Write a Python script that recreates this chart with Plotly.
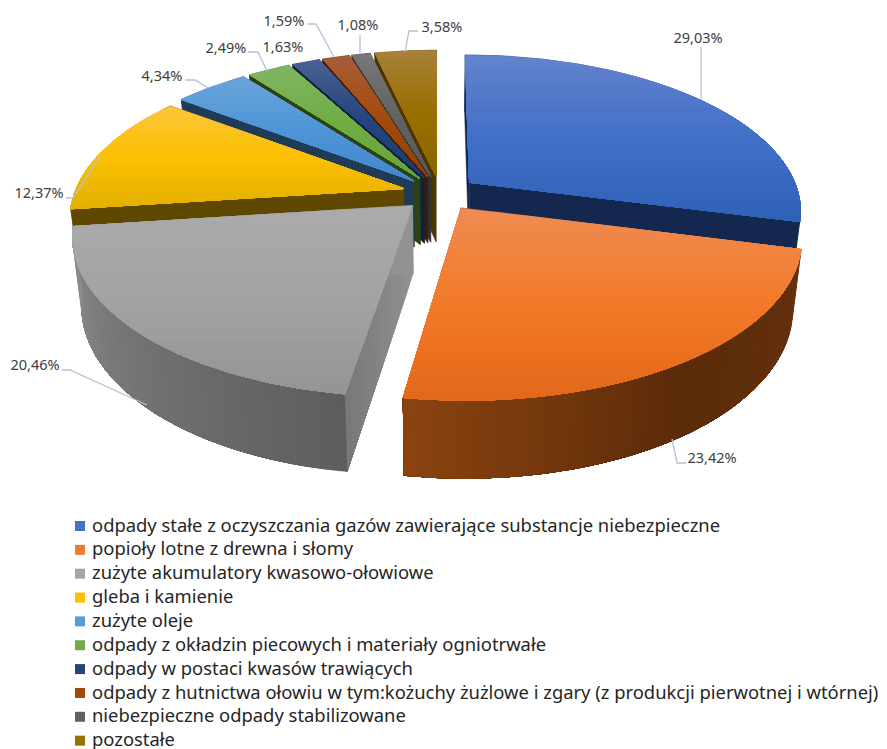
import math
import plotly.graph_objects as go

# ---- data ----
categories = [
    "odpady stałe z oczyszczania gazów zawierające substancje niebezpieczne",
    "popioły lotne z drewna i słomy",
    "zużyte akumulatory kwasowo-ołowiowe",
    "gleba i kamienie",
    "zużyte oleje",
    "odpady z okładzin piecowych i materiały ogniotrwałe",
    "odpady w postaci kwasów trawiących",
    "odpady z hutnictwa ołowiu w tym:kożuchy żużlowe i zgary (z produkcji pierwotnej i wtórnej)",
    "niebezpieczne odpady stabilizowane",
    "pozostałe",
]
values = [29.03, 23.42, 20.46, 12.37, 4.34, 2.49, 1.63, 1.59, 1.08, 3.58]

# ---- styles ----
top_colors = [
    ("#6483cd", "#4170c8", "#2f62b6"),
    ("#ef8b53", "#f37a29", "#e2681a"),
    ("#ababab", "#a3a3a3", "#959595"),
    ("#fcc53c", "#fbc000", "#e4b000"),
    ("#6ba4da", "#4f96d8", "#4487cc"),
    ("#81b565", "#6eae42", "#67a43b"),
    ("#4c6192", "#24467f", "#1d3c75"),
    ("#a95d3a", "#a44c0e", "#8e4006"),
    ("#787878", "#636363", "#595959"),
    ("#a9813c", "#997000", "#8a6500"),
]
legend_colors = ["#4472c4", "#ed7d31", "#a5a5a5", "#fdc000", "#5b9bd5", "#70ad47",
                 "#264478", "#a04a10", "#636363", "#997300"]
wall_colors = ["#14284f", "#5f2d0b", "#777777", "#5e4800", "#1f3b55",
               "#2b4217", "#12203d", "#3c1d08", "#333333", "#4a3600"]
outer_wall_stops = {1: ["#66330f", "#5b2b0a", "#8b4310"], 2: ["#5d5d5d", "#737373", "#8d8d8d"]}
radial_wall_stops = {2: ["#939393", "#787878"]}
label_pos = [(698, 39), (712, 459), (35, 366), (39, 194), (162, 77),
             (226, 49), (283, 48), (284, 22), (358, 26), (442, 28)]
leaders = [
    [(701, 47), (701, 100)],
    [(672, 439), (677, 463), (686, 463)],
    [(62, 370), (70, 370), (147, 405)],
    [(66, 198), (73, 198), (102, 153)],
    [(185, 80), (195, 80), (208, 88)],
    [(248, 52), (258, 52), (267, 71)],
    None,
    [(308, 24), (316, 24), (334, 57)],
    [(360, 35), (360, 54)],
    [(418, 31), (409, 31), (405, 52)],
]
paint_order = [9, 8, 7, 6, 5, 4, 3, 2, 0, 1]
legend_x, legend_text_x, legend_y0, legend_dy = 80, 92, 527, 23.85
CX, CY, A, B, K, EXPL = 440, 193, 329, 153, 0.174, 0.115
H0, H1, S = 67, 10, 0.975


def proj(X, Y, bottom=False):
    w = 1 - K * Y
    if bottom:
        return CX + S * A * X / w, CY + B * Y / w + H0 + H1 * Y
    return CX + A * X / w, CY + B * Y / w


def hex2rgb(h):
    return tuple(int(h[i:i + 2], 16) for i in (1, 3, 5))


def mix(stops, t):
    t = max(0.0, min(1.0, t)) * (len(stops) - 1)
    i = min(int(t), len(stops) - 2)
    f = t - i
    a, b = hex2rgb(stops[i]), hex2rgb(stops[i + 1])
    return "rgb(%d,%d,%d)" % tuple(round(a[j] + (b[j] - a[j]) * f) for j in range(3))


def clip_below(poly, y):
    out = []
    n = len(poly)
    for i in range(n):
        p, q = poly[i], poly[(i + 1) % n]
        pin, qin = p[1] >= y, q[1] >= y
        if pin:
            out.append(p)
        if pin != qin:
            f = (y - p[1]) / (q[1] - p[1])
            out.append((p[0] + (q[0] - p[0]) * f, y))
    return out


fig = go.Figure()


def add_poly(poly, color, name):
    xs = [p[0] for p in poly] + [poly[0][0]]
    ys = [p[1] for p in poly] + [poly[0][1]]
    fig.add_trace(go.Scatter(x=xs, y=ys, mode="lines", fill="toself", fillcolor=color,
                             line=dict(color=color, width=0.5), hoverinfo="skip",
                             showlegend=False, name=name))


total = sum(values)
bounds = [0.0]
for v in values:
    bounds.append(bounds[-1] + v / total * 2 * math.pi)

for idx in paint_order:
    t0, t1 = bounds[idx], bounds[idx + 1]
    mid = (t0 + t1) / 2
    ox, oy = EXPL * math.sin(mid), -EXPL * math.cos(mid)
    n = max(4, int((t1 - t0) / math.radians(1)))
    angles = [t0 + (t1 - t0) * i / n for i in range(n + 1)]
    rim = [(ox + math.sin(a), oy - math.cos(a)) for a in angles]
    name = categories[idx]

    # radial walls: each strip runs to the far end, so later strips overpaint with no seams
    for (rx, ry) in (rim[0], rim[-1]):
        strips = 16 if idx in radial_wall_stops else 1
        for s in range(strips):
            f0 = s / strips
            a0 = (ox + (rx - ox) * f0, oy + (ry - oy) * f0)
            a1 = (rx, ry)
            col = mix(radial_wall_stops[idx], (s + .5) / strips) if idx in radial_wall_stops else wall_colors[idx]
            add_poly([proj(*a0), proj(*a1), proj(*a1, True), proj(*a0, True)], col, name)

    # outer wall
    if idx in outer_wall_stops:
        for i in range(n):
            part = rim[i:]
            col = mix(outer_wall_stops[idx], (i + .5) / n)
            add_poly([proj(*a) for a in part] + [proj(*a, True) for a in reversed(part)], col, name)
    else:
        add_poly([proj(*a) for a in rim] + [proj(*a, True) for a in reversed(rim)], wall_colors[idx], name)

    # top face with vertical gradient, overpainted from the top down
    poly = [proj(ox, oy)] + [proj(*a) for a in rim]
    ymin = min(p[1] for p in poly)
    ymax = max(p[1] for p in poly)
    bands = max(6, int((ymax - ymin) / 4))
    for b in range(bands):
        y0 = ymin + (ymax - ymin) * b / bands
        piece = clip_below(poly, y0)
        if len(piece) >= 3:
            add_poly(piece, mix(top_colors[idx], (b + .5) / bands), name)

# leader lines
for line in leaders:
    if line:
        fig.add_trace(go.Scatter(x=[p[0] for p in line], y=[p[1] for p in line], mode="lines",
                                 line=dict(color="#b5c1d6", width=1.3), hoverinfo="skip", showlegend=False))

# data labels
fig.add_trace(go.Scatter(
    x=[p[0] for p in label_pos], y=[p[1] for p in label_pos], mode="text",
    text=[("%.2f%%" % v).replace(".", ",") for v in values],
    textposition="middle center",
    textfont=dict(family="Noto Sans", size=14.5, color="#404040"),
    hoverinfo="skip", showlegend=False))

# legend
for i, cat in enumerate(categories):
    y = legend_y0 + i * legend_dy
    fig.add_trace(go.Scatter(
        x=[legend_x], y=[y - 1], mode="markers",
        marker=dict(symbol="square", size=10, color=legend_colors[i]),
        name=cat, hoverinfo="name", showlegend=False))
    fig.add_trace(go.Scatter(
        x=[legend_text_x], y=[y], mode="text",
        text=[cat], textposition="middle right",
        textfont=dict(family="Noto Sans", size=18.4, color="#262626"),
        name=cat, hoverinfo="skip", showlegend=False, cliponaxis=False))

fig.update_layout(
    width=887, height=749, margin=dict(l=0, r=0, t=0, b=0),
    paper_bgcolor="white", plot_bgcolor="white", showlegend=False,
    xaxis=dict(range=[0, 887], visible=False, fixedrange=True),
    yaxis=dict(range=[749, 0], visible=False, fixedrange=True),
)
fig.write_html("out.html", config={"displayModeBar": False},
               post_script="document.body.style.margin='0';")
